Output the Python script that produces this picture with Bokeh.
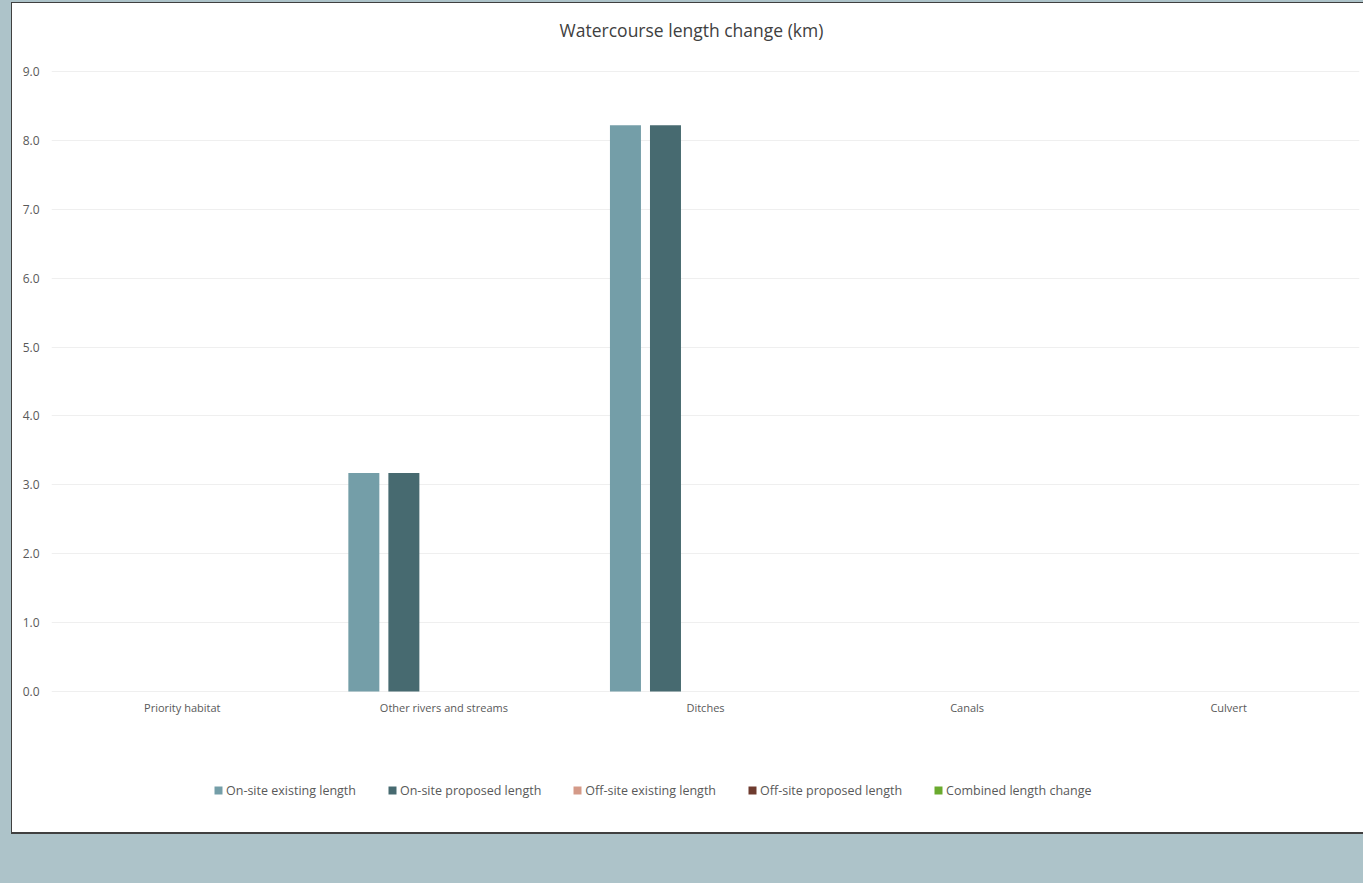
from bokeh.plotting import figure
from bokeh.models import (FactorRange, Range1d, Legend, LegendItem, FixedTicker, Label,
                          PrintfTickFormatter, GlobalInlineStyleSheet, ColumnDataSource)
from bokeh.transform import dodge
from bokeh.embed import file_html
from bokeh.resources import INLINE

# ---- data ----
categories = ["Priority habitat", "Other rivers and streams", "Ditches", "Canals", "Culvert"]
onsite_existing = [0.0, 3.17, 8.22, 0.0, 0.0]
onsite_proposed = [0.0, 3.17, 8.22, 0.0, 0.0]
offsite_existing = [0.0, 0.0, 0.0, 0.0, 0.0]
offsite_proposed = [0.0, 0.0, 0.0, 0.0, 0.0]
combined_change = [0.0, 0.0, 0.0, 0.0, 0.0]
series_names = ["On-site existing length", "On-site proposed length", "Off-site existing length",
                "Off-site proposed length", "Combined length change"]
series_colors = ["#749ea8", "#476a70", "#d49a88", "#6e3b2f", "#6aaa2e"]
y_ticks = [0, 1, 2, 3, 4, 5, 6, 7, 8, 9]
title_text = "Watercourse length change (km)"

FONT = "Open Sans"

# ---- layout (pixels) ----
FRAME_LEFT = 51
FRAME_TOP = 3          # page y of frame top
FRAME_H = 802
FRAME_BOTTOM = FRAME_TOP + FRAME_H
Y0_PIX, Y9_PIX = 691, 71   # page y of value 0 and of value 9
k = (Y0_PIX - Y9_PIX) / 9.0
y_end = 9 + (Y9_PIX - FRAME_TOP) / k
y_start = -(FRAME_BOTTOM - Y0_PIX) / k

src = ColumnDataSource(dict(cat=categories, s0=onsite_existing, s1=onsite_proposed,
                            s2=offsite_existing, s3=offsite_proposed, s4=combined_change))

p = figure(frame_width=1308, frame_height=FRAME_H,
           x_range=FactorRange(factors=categories, range_padding=0),
           y_range=Range1d(y_start, y_end), output_backend="svg", toolbar_location=None,
           min_border_left=FRAME_LEFT - 12, min_border_right=4, min_border_top=0,
           min_border_bottom=27)
p.margin = (2, 0, 0, 11)
p.styles = {"border-left": "1px solid #404040", "border-bottom": "2px solid #404040",
            "border-top": "1px solid #404040", "background-color": "white"}
p.stylesheets = [GlobalInlineStyleSheet(css="html, body { background-color: #adc3c9; overflow: hidden; }")]
p.border_fill_color = "white"
p.background_fill_color = "white"
p.outline_line_color = None

# title (frame-relative screen coordinates, y measured up from frame bottom)
p.add_layout(Label(x=691 - FRAME_LEFT, y=FRAME_BOTTOM - 29, x_units="screen", y_units="screen",
                   text=title_text, text_align="center", text_baseline="middle",
                   text_font=FONT, text_font_size="17.5px", text_color="#404040"))

slot = 0.153
width = 0.1185
offsets = [-2 * slot, -slot, 0.0, slot, 2 * slot]
items = []
for i, (name, col) in enumerate(zip(series_names, series_colors)):
    r = p.vbar(x=dodge("cat", offsets[i], range=p.x_range), top="s%d" % i, bottom=0, width=width,
               source=src, fill_color=col, line_color=None)
    items.append(LegendItem(label=name, renderers=[r]))

for ax in (p.xaxis[0], p.yaxis[0]):
    ax.axis_line_color = None
    ax.major_tick_line_color = None
    ax.minor_tick_line_color = None
    ax.major_tick_out = 0
    ax.major_tick_in = 0
    ax.minor_tick_out = 0
    ax.major_label_text_font = FONT
    ax.major_label_text_font_size = "11px"
    ax.major_label_text_color = "#595959"

p.xaxis.fixed_location = 0
p.yaxis.major_label_text_font_size = "12px"
p.xaxis.major_label_standoff = 8
p.yaxis.major_label_standoff = 12
p.yaxis.ticker = FixedTicker(ticks=y_ticks)
p.yaxis.formatter = PrintfTickFormatter(format="%.1f")
p.xgrid.grid_line_color = None
p.ygrid.grid_line_color = "#efefef"

LEG_TOP = 780
legend = Legend(items=items, orientation="horizontal",
                location=(213 - FRAME_LEFT, FRAME_BOTTOM - LEG_TOP - 20),
                glyph_width=10, glyph_height=10, label_standoff=3, spacing=31,
                padding=0, margin=0, border_line_alpha=0, background_fill_alpha=0,
                label_text_font=FONT, label_text_font_size="12.5px", label_text_color="#595959",
                label_height=20)
p.add_layout(legend, "center")

open("out.html", "w").write(file_html(p, INLINE))
